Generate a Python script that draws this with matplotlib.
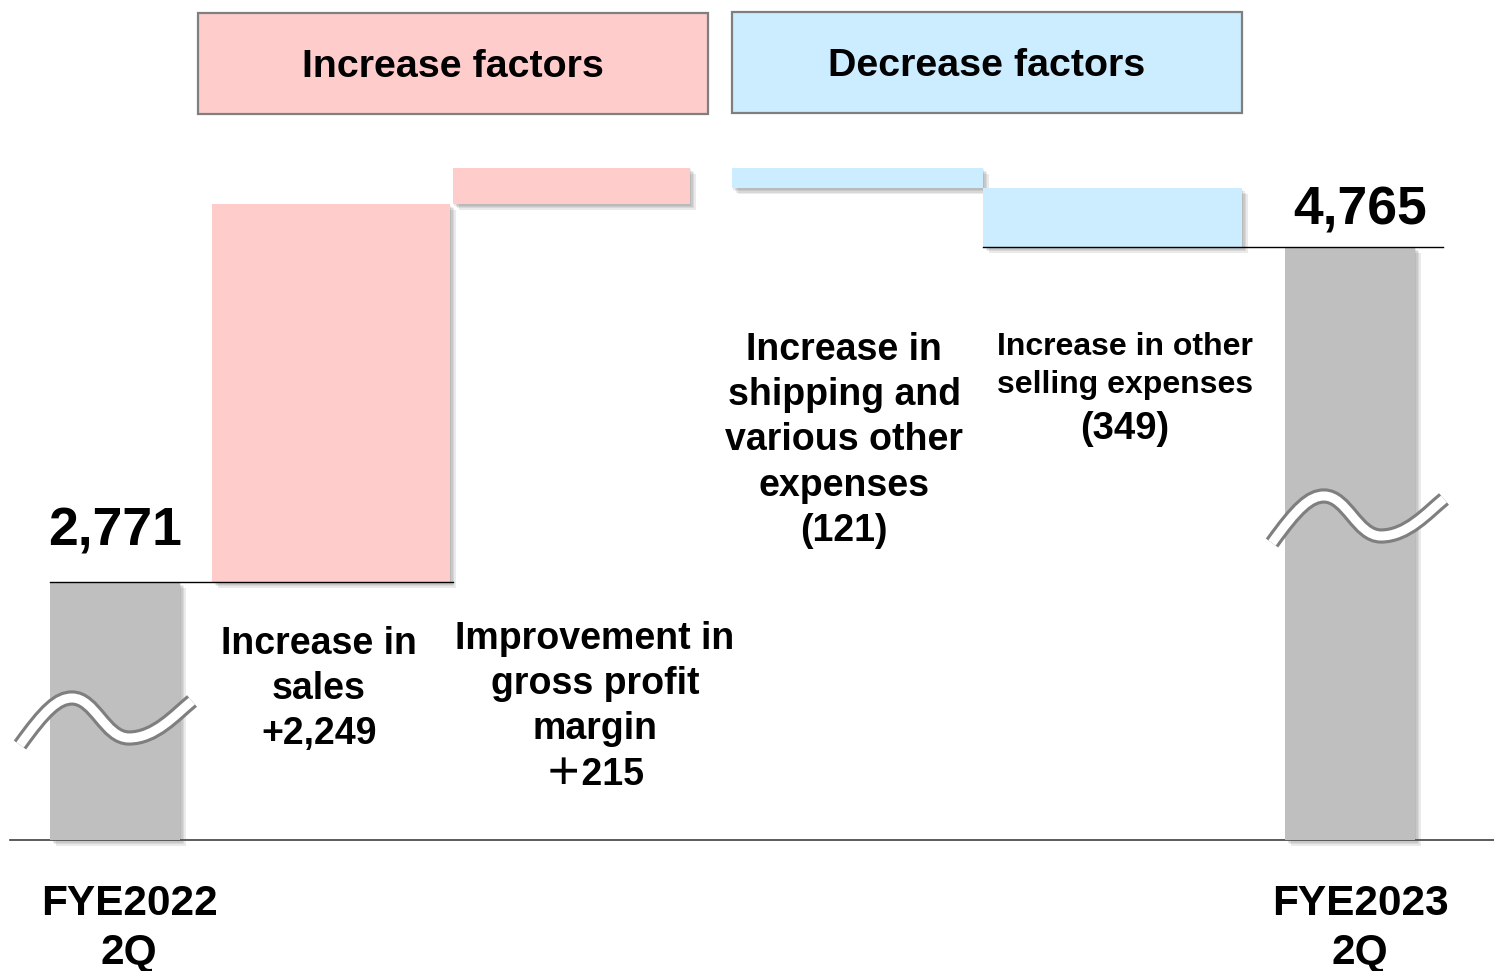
import numpy as np
import matplotlib
matplotlib.use("Agg")
import matplotlib.pyplot as plt
import matplotlib.patheffects as pe
from matplotlib.patches import Rectangle, PathPatch
from matplotlib.path import Path

# data
start_label = 'FYE2022\n2Q'
end_label = 'FYE2023\n2Q'
start_value = 2771
end_value = 4765
factor_names = ['Increase in\nsales',
                'Improvement in\ngross profit\nmargin',
                'Increase in\nshipping and\nvarious other\nexpenses',
                'Increase in other\nselling expenses']
factor_values = [2249, 215, -121, -349]
factor_value_text = ['+2,249', '\uff0b215', '(121)', '(349)']
header_texts = ['Increase factors', 'Decrease factors']

PINK = '#FFCCCC'
BLUE = '#CCECFF'
GRAY = '#BFBFBF'
EDGE = '#7F7F7F'
FONT = ['Liberation Sans', 'Noto Sans CJK JP', 'DejaVu Sans']

W, H = 1494, 971
fig = plt.figure(figsize=(W / 100, H / 100), dpi=100)

# main axes: x in pixels, y in data units (broken axis, so floor is arbitrary)
K = 0.168          # pixels per unit
Y0PX = 582         # pixel row of start value
def px2val(py):
    return start_value - (py - Y0PX) / K

ax = fig.add_axes([0, 0, 1, 1])
ax.set_xlim(0, W)
ax.set_ylim(px2val(H), px2val(0))
ax.axis('off')
floor = px2val(840)

# waterfall
cum = np.cumsum([start_value] + factor_values)
lows = np.minimum(cum[:-1], cum[1:])
heights = np.abs(factor_values)
colors = [PINK if v > 0 else BLUE for v in factor_values]

xl = [50, 212, 453, 732, 983, 1285]
xr = [180, 450, 690, 983, 1242, 1415]
centers = [(a + b) / 2 for a, b in zip(xl, xr)]
widths = [b - a for a, b in zip(xl, xr)]

shadow = [pe.SimplePatchShadow(offset=(o, -o), shadow_rgbFace='0.35', alpha=0.12)
          for o in (1, 2, 3, 4)] + [pe.Normal()]

ax.plot([10, W], [floor, floor], color='#404040', lw=1.2, zorder=1)
ax.bar(centers[0], start_value - floor, bottom=floor, width=widths[0],
       color=GRAY, zorder=2, path_effects=shadow)
ax.bar(centers[5], end_value - floor, bottom=floor, width=widths[5],
       color=GRAY, zorder=2, path_effects=shadow)
ax.bar(centers[1:5], heights, bottom=lows, width=widths[1:5],
       color=colors, zorder=2, path_effects=shadow)
ax.plot([50, 453], [start_value, start_value], color='black', lw=1.0, zorder=3)
ax.plot([983, 1443], [end_value, end_value], color='black', lw=1.0, zorder=3)

ax.annotate(f'{start_value:,}', (centers[0], start_value), xytext=(0, 26),
            textcoords='offset points', ha='center', va='baseline',
            fontsize=38.5, fontweight='bold', family=FONT)
ax.annotate(f'{end_value:,}', (1360, end_value), xytext=(0, 16),
            textcoords='offset points', ha='center', va='baseline',
            fontsize=38.5, fontweight='bold', family=FONT)

# overlay in pixel coords for headers, labels, break marks
ov = fig.add_axes([0, 0, 1, 1])
ov.set_xlim(0, W)
ov.set_ylim(H, 0)
ov.axis('off')
ov.patch.set_alpha(0)

for (x0, y0, c), t in zip([(198, 13, PINK), (732, 12, BLUE)], header_texts):
    ov.add_patch(Rectangle((x0, y0), 510, 101, facecolor=c, edgecolor=EDGE, lw=1.6))
    ov.text(x0 + 255, y0 + 54, t, ha='center', va='center', fontsize=28.4,
            fontweight='bold', family=FONT)

# break marks
def wave(x0, y0):
    verts = [(0, 0), (25, -35), (38, -47), (52, -47),
             (75, -47), (85, -7), (109, -7),
             (135, -7), (155, -30), (172, -44)]
    verts = [(x0 + a, y0 + b) for a, b in verts]
    codes = [Path.MOVETO] + [Path.CURVE4] * 9
    p = Path(verts, codes)
    ov.add_patch(PathPatch(p, fill=False, edgecolor='#7F7F7F', lw=11, capstyle='butt'))
    ov.add_patch(PathPatch(p, fill=False, edgecolor='white', lw=6.5, capstyle='butt'))

wave(20, 745)
wave(1272, 543)

# factor labels
lab_pos = [(319, 626), (595, 621), (844, 332)]
for (x, y), name, vt in zip(lab_pos, factor_names[:3], factor_value_text[:3]):
    ov.text(x, y, name + '\n' + vt, ha='center', va='top', fontsize=27,
            fontweight='bold', family=FONT, linespacing=1.33)
ov.text(1125, 332, factor_names[3], ha='center', va='top', fontsize=23,
        fontweight='bold', family=FONT, linespacing=1.33)
ov.text(1125, 429, factor_value_text[3], ha='center', va='center', fontsize=27.5,
        fontweight='bold', family=FONT)

for x, t in [(129, start_label), (1360, end_label)]:
    ov.text(x, 884, t, ha='center', va='top', fontsize=30.5, fontweight='bold',
            family=FONT, linespacing=1.3)

fig.savefig('out.png', dpi=100)
